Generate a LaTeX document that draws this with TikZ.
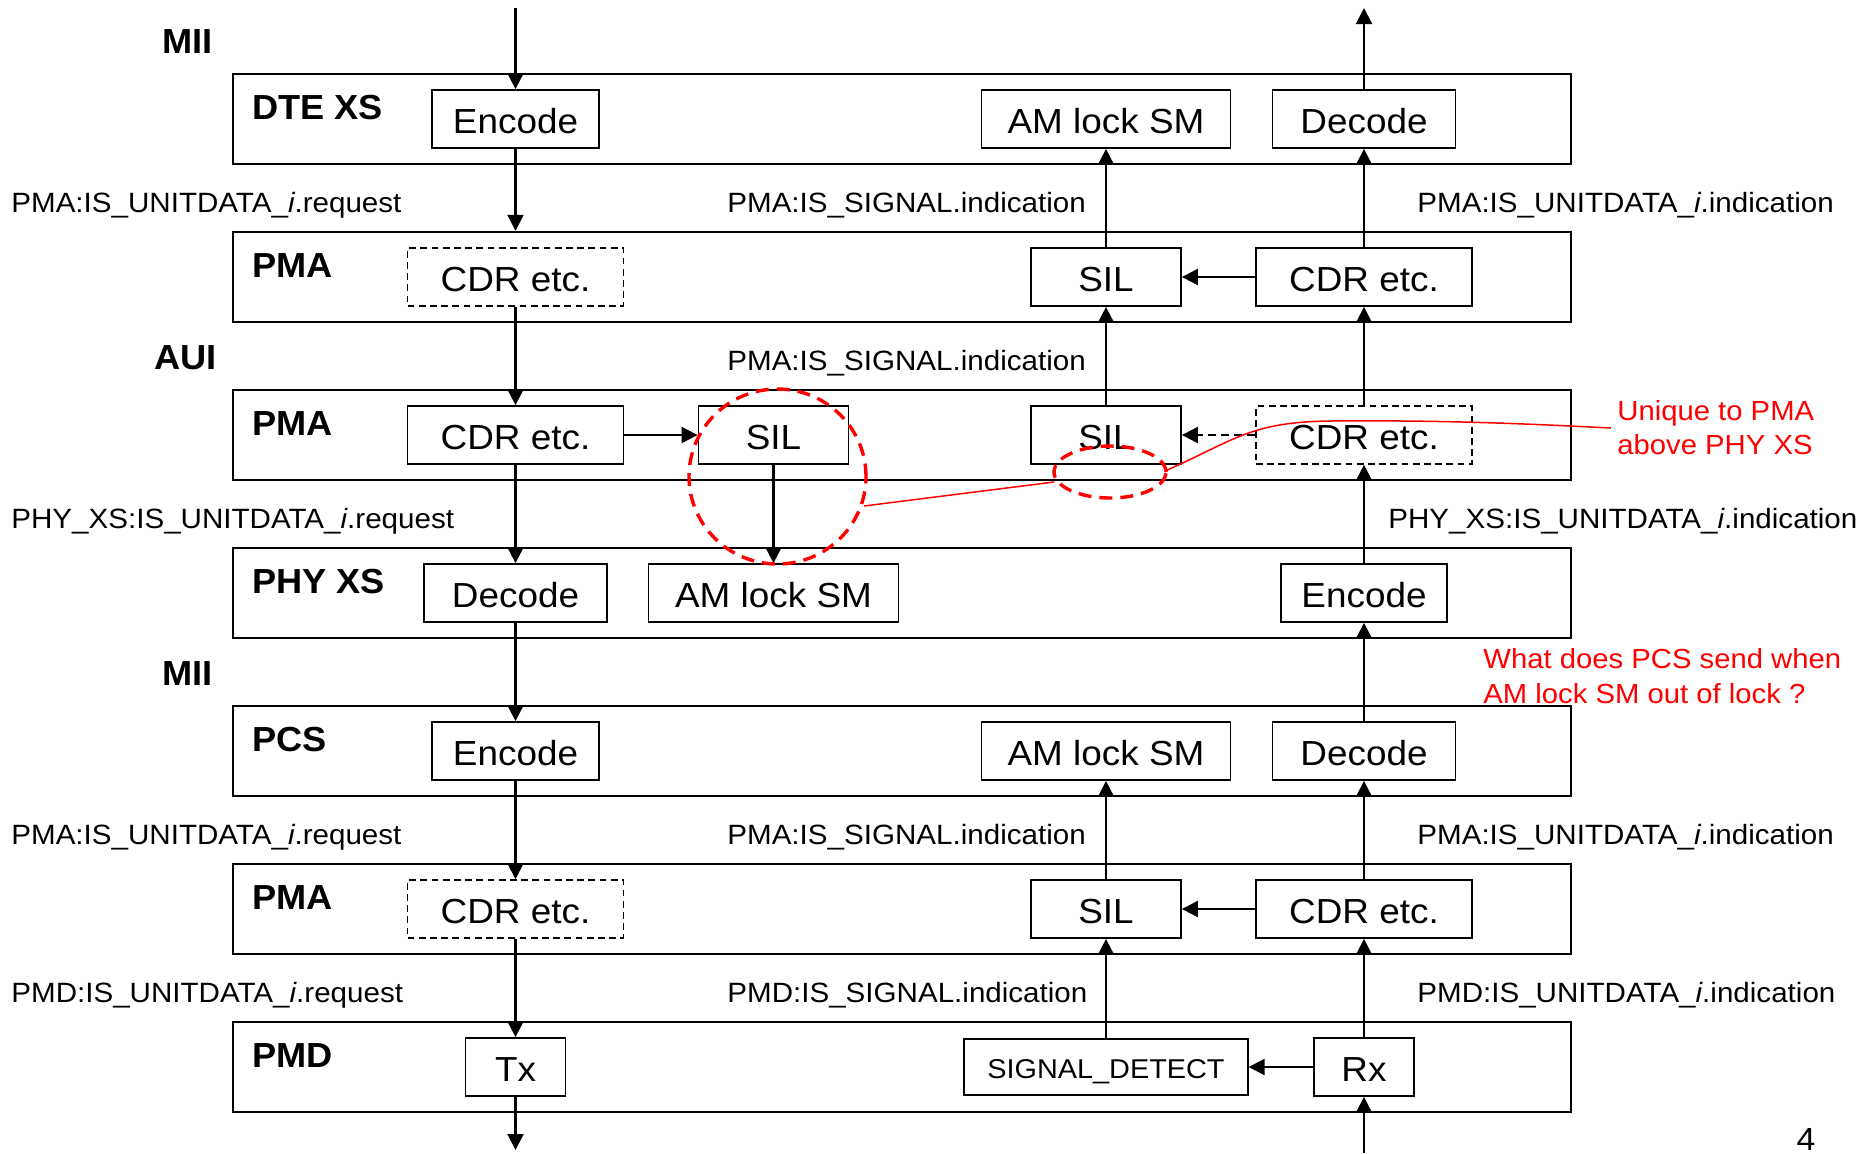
\documentclass[tikz,border=0pt]{standalone}
\usepackage{fontspec}
\setmainfont{Liberation Sans}[FakeStretch=1.06]
\newfontfamily\lblfont{Liberation Sans}[FakeStretch=1.04]
\usetikzlibrary{arrows.meta}
\definecolor{annred}{RGB}{255,0,0}
\tikzset{
  layer/.style={draw, line width=1.2pt, minimum width=669pt, minimum height=45pt, inner sep=0pt},
  blk/.style={draw, line width=0.9pt, minimum height=29pt, inner sep=0pt, text height=14.6pt, text depth=0pt, font=\fontsize{17.4pt}{20pt}\selectfont},
  dblk/.style={blk, line width=0.8pt, dash pattern=on 3.4pt off 2.2pt},
  arr/.style={line width=1.05pt, -{Triangle[length=8pt,width=8pt]}},
  darr/.style={arr, dash pattern=on 4pt off 2.5pt},
  lname/.style={anchor=base west, inner sep=0pt, font=\lblfont\bfseries\fontsize{17.4pt}{20pt}\selectfont},
  sig/.style={anchor=base west, inner sep=0pt, font=\fontsize{13.95pt}{16pt}\selectfont},
  annot/.style={anchor=base west, inner sep=0pt, text=annred, font=\fontsize{13.8pt}{16pt}\selectfont},
  reddash/.style={draw=annred, line width=1.7pt, dash pattern=on 6.5pt off 4pt},
  redline/.style={draw=annred, line width=0.75pt}
}
\begin{document}
\begin{tikzpicture}[x=0.5pt,y=-0.5pt]
\fill[white] (0,0) rectangle (1862,1153);
\useasboundingbox (0,0) rectangle (1862,1153);

% layers
\node[layer] (L0) at (902,119) {};
\node[layer] (L1) at (902,277) {};
\node[layer] (L2) at (902,435) {};
\node[layer] (L3) at (902,593) {};
\node[layer] (L4) at (902,751) {};
\node[layer] (L5) at (902,909) {};
\node[layer] (L6) at (902,1067) {};

% layer names
\node[lname] (n0) at (252,119) {DTE XS};
\node[lname] (n1) at (252,277) {PMA};
\node[lname] (n2) at (252,435) {PMA};
\node[lname] (n3) at (252,593) {PHY XS};
\node[lname] (n4) at (252,751) {PCS};
\node[lname] (n5) at (252,909) {PMA};
\node[lname] (n6) at (252,1067) {PMD};

% interface names
\node[lname] (mii1) at (162,53) {MII};
\node[lname] (aui) at (154,369) {AUI};
\node[lname] (mii2) at (162,685) {MII};

% inner blocks
\node[blk, minimum width=83.5pt] (d-enc) at (515.5,119) {Encode};
\node[blk, minimum width=124.5pt] (d-am) at (1106,119) {AM lock SM};
\node[blk, minimum width=91.5pt] (d-dec) at (1364,119) {Decode};

\node[dblk, minimum width=108pt] (p1-cdr) at (515.5,277) {CDR etc.};
\node[blk, minimum width=75pt] (p1-sil) at (1106,277) {SIL};
\node[blk, minimum width=108pt] (p1-cdr2) at (1364,277) {CDR etc.};

\node[blk, minimum width=108pt] (p2-cdr) at (515.5,435) {CDR etc.};
\node[blk, minimum width=75pt] (p2-sil) at (773.5,435) {SIL};
\node[blk, minimum width=75pt] (p2-sil2) at (1106,435) {SIL};
\node[dblk, minimum width=108pt] (p2-cdr2) at (1364,435) {CDR etc.};

\node[blk, minimum width=91.5pt] (x-dec) at (515.5,593) {Decode};
\node[blk, minimum width=125pt] (x-am) at (773.5,593) {AM lock SM};
\node[blk, minimum width=83pt] (x-enc) at (1364,593) {Encode};

\node[blk, minimum width=83.5pt] (c-enc) at (515.5,751) {Encode};
\node[blk, minimum width=124.5pt] (c-am) at (1106,751) {AM lock SM};
\node[blk, minimum width=91.5pt] (c-dec) at (1364,751) {Decode};

\node[dblk, minimum width=108pt] (p3-cdr) at (515.5,909) {CDR etc.};
\node[blk, minimum width=75pt] (p3-sil) at (1106,909) {SIL};
\node[blk, minimum width=108pt] (p3-cdr2) at (1364,909) {CDR etc.};

\node[blk, minimum width=50pt] (m-tx) at (515.5,1067) {Tx};
\node[blk, minimum width=141.75pt, minimum height=27.8pt, text height=11.4pt, font=\fontsize{13.6pt}{16pt}\selectfont] (m-sd) at (1106,1067) {SIGNAL\_DETECT};
\node[blk, minimum width=50pt] (m-rx) at (1364,1067) {Rx};

% service primitive labels
\node[sig] (s1a) at (11,212) {PMA:IS\_UNITDATA\_\textit{i}.request};
\node[sig] (s1b) at (727,212) {PMA:IS\_SIGNAL.indication};
\node[sig] (s1c) at (1417,212) {PMA:IS\_UNITDATA\_\textit{i}.indication};
\node[sig] (s2b) at (727,370) {PMA:IS\_SIGNAL.indication};
\node[sig] (s3a) at (11,528) {PHY\_XS:IS\_UNITDATA\_\textit{i}.request};
\node[sig] (s3c) at (1388,528) {PHY\_XS:IS\_UNITDATA\_\textit{i}.indication};
\node[sig] (s5a) at (11,844) {PMA:IS\_UNITDATA\_\textit{i}.request};
\node[sig] (s5b) at (727,844) {PMA:IS\_SIGNAL.indication};
\node[sig] (s5c) at (1417,844) {PMA:IS\_UNITDATA\_\textit{i}.indication};
\node[sig] (s6a) at (11,1002) {PMD:IS\_UNITDATA\_\textit{i}.request};
\node[sig] (s6b) at (727,1002) {PMD:IS\_SIGNAL.indication};
\node[sig] (s6c) at (1417,1002) {PMD:IS\_UNITDATA\_\textit{i}.indication};

% page number
\node[anchor=base, inner sep=0pt, font=\fontsize{16pt}{18pt}\selectfont] (pg) at (1806,1150) {4};

% free ends
\coordinate (topin) at (515.5,8);
\coordinate (topout) at (1364,8);
\coordinate (botout) at (515.5,1150);
\coordinate (botin) at (1364,1153);

% transmit (left) path
\draw[arr] (topin) -- (d-enc.north);
\draw[arr] (d-enc.south) -- (d-enc.south |- L1.north);
\draw[arr] (p1-cdr.south) -- (p2-cdr.north);
\draw[arr] (p2-cdr.south) -- (x-dec.north);
\draw[arr] (x-dec.south) -- (c-enc.north);
\draw[arr] (c-enc.south) -- (p3-cdr.north);
\draw[arr] (p3-cdr.south) -- (m-tx.north);
\draw[arr] (m-tx.south) -- (botout);

% middle
\draw[arr] (p2-cdr.east) -- (p2-sil.west);
\draw[arr] (p2-sil.south) -- (x-am.north);

% receive (right) path
\draw[arr] (botin) -- (m-rx.south);
\draw[arr] (m-rx.west) -- (m-sd.east);
\draw[arr] (m-sd.north) -- (p3-sil.south);
\draw[arr] (m-rx.north) -- (p3-cdr2.south);
\draw[arr] (p3-cdr2.west) -- (p3-sil.east);
\draw[arr] (p3-sil.north) -- (c-am.south);
\draw[arr] (p3-cdr2.north) -- (c-dec.south);
\draw[arr] (c-dec.north) -- (x-enc.south);
\draw[arr] (x-enc.north) -- (p2-cdr2.south);
\draw[darr] (p2-cdr2.west) -- (p2-sil2.east);
\draw[arr] (p2-sil2.north) -- (p1-sil.south);
\draw[arr] (p2-cdr2.north) -- (p1-cdr2.south);
\draw[arr] (p1-cdr2.west) -- (p1-sil.east);
\draw[arr] (p1-sil.north) -- (d-am.south);
\draw[arr] (p1-cdr2.north) -- (d-dec.south);
\draw[arr] (d-dec.north) -- (topout);

% red annotations
\node[annot] (u1) at (1617,420) {Unique to PMA};
\node[annot] (u2) at (1617,454) {above PHY XS};
\node[annot] (w1) at (1483,668) {What does PCS send when};
\node[annot] (w2) at (1483,703) {AM lock SM out of lock ?};

\draw[reddash] (777.5,476.5) ellipse [x radius=44.25pt, y radius=43.75pt];
\draw[reddash] (1110,472) ellipse [x radius=28pt, y radius=13pt];
\coordinate (bigR) at (864,506);
\coordinate (smallL) at (1054,482);
\coordinate (smallR) at (1165,471);
\coordinate (uEnd) at (1611,428);
\draw[redline] (bigR) -- (smallL);
\draw[redline] (smallR) .. controls (1235,440) and (1250,422) .. (1330,421)
  .. controls (1450,420) and (1530,424) .. (uEnd);
\end{tikzpicture}
\end{document}
